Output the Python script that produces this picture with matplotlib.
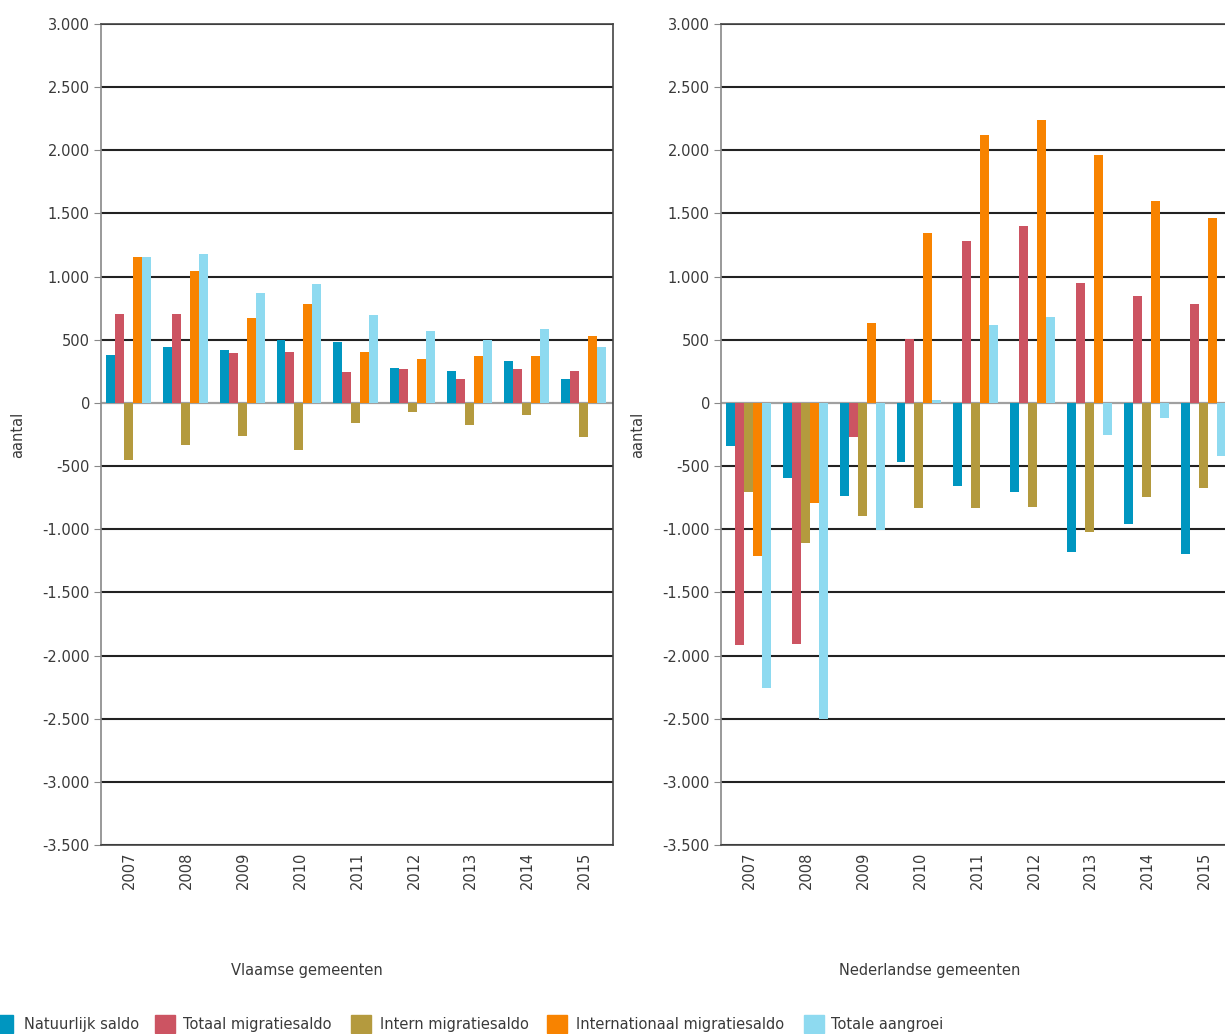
import matplotlib
matplotlib.use("Agg")
import matplotlib.pyplot as plt
import numpy as np
from matplotlib.ticker import FuncFormatter, FixedLocator
from matplotlib.patches import Rectangle

years = ["2007", "2008", "2009", "2010", "2011", "2012", "2013", "2014", "2015"]
series_names = ["Natuurlijk saldo", "Totaal migratiesaldo", "Intern migratiesaldo",
                "Internationaal migratiesaldo", "Totale aangroei"]
colors = ["#0096C0", "#CC5462", "#B49A3E", "#F88300", "#8EDAF0"]

# Vlaamse gemeenten
vl_natuurlijk = [378, 442, 418, 500, 482, 280, 254, 331, 193]
vl_totaal_mig = [706, 706, 392, 405, 241, 267, 193, 267, 254]
vl_intern_mig = [-450, -336, -259, -373, -161, -71, -172, -98, -273]
vl_intl_mig = [1159, 1045, 669, 783, 405, 344, 368, 368, 529]
vl_aangroei = [1159, 1183, 870, 945, 693, 569, 500, 582, 442]

# Nederlandse gemeenten
nl_natuurlijk = [-345, -597, -734, -468, -658, -708, -1181, -958, -1195]
nl_totaal_mig = [-1920, -1908, -271, 503, 1281, 1397, 947, 844, 781]
nl_intern_mig = [-708, -1108, -895, -832, -832, -821, -1021, -745, -671]
nl_intl_mig = [-1208, -795, 630, 1344, 2125, 2239, 1963, 1598, 1461]
nl_aangroei = [-2255, -2505, -1008, 26, 617, 680, -255, -121, -421]

panel_titles = ["Vlaamse gemeenten", "Nederlandse gemeenten"]
yticks = list(range(-3500, 3001, 500))

W, H = 1225, 1034
fig = plt.figure(figsize=(W / 100, H / 100), dpi=100)
plt.rcParams['font.family'] = ['DejaVu Sans']
txt_color = "#3a3a3a"
fs = 10.5


def fmt(v, pos=None):
    return f"{int(round(v)):,}".replace(",", ".")


def make_panel(left_px, data):
    ax = fig.add_axes([left_px / W, (H - 845) / H, 512 / W, (845 - 24) / H])
    x = np.arange(len(years))
    n = len(data)
    bw = 0.158
    for i, vals in enumerate(data):
        ax.bar(x - 0.02 + (i - (n - 1) / 2) * bw, vals, width=bw, color=colors[i],
               zorder=3, linewidth=0)
    ax.set_xlim(-0.5, len(years) - 0.5)
    ax.set_ylim(-3500, 3000)
    ax.yaxis.set_major_locator(FixedLocator(yticks))
    ax.yaxis.set_major_formatter(FuncFormatter(fmt))
    for t in yticks:
        if t == 0:
            ax.axhline(t, color="#a0a0a0", lw=1.6, zorder=2)
        else:
            ax.axhline(t, color="#222222", lw=1.5, zorder=1)
    ax.set_xticks(x)
    ax.set_xticklabels(years, rotation=90, fontsize=fs, color=txt_color)
    ax.tick_params(axis="x", length=0, pad=5)
    ax.tick_params(axis="y", length=5, color="#888888", labelsize=fs,
                   labelcolor=txt_color, pad=3)
    for s in ax.spines.values():
        s.set_color("#444444")
        s.set_linewidth(1.2)
    ax.spines["left"].set_color("#888888")
    return ax


ax1 = make_panel(101, [vl_natuurlijk, vl_totaal_mig, vl_intern_mig, vl_intl_mig, vl_aangroei])
ax2 = make_panel(721, [nl_natuurlijk, nl_totaal_mig, nl_intern_mig, nl_intl_mig, nl_aangroei])

# axis labels
fig.text(18 / W, 1 - 435 / H, "aantal", rotation=90, ha="center", va="center",
         fontsize=fs, color=txt_color)
fig.text(638 / W, 1 - 435 / H, "aantal", rotation=90, ha="center", va="center",
         fontsize=fs, color=txt_color)
fig.text(307 / W, 1 - 970 / H, panel_titles[0], ha="center", va="center",
         fontsize=fs, color=txt_color)
fig.text(930 / W, 1 - 970 / H, panel_titles[1], ha="center", va="center",
         fontsize=fs, color=txt_color)

# legend
patch_x = [-7, 155, 351, 547, 804]
text_x = [24, 183, 380, 576, 831]
ly = 1024
for px, tx, name, c in zip(patch_x, text_x, series_names, colors):
    fig.patches.append(Rectangle((px / W, 1 - (ly + 9) / H), 20 / W, 18 / H,
                                 transform=fig.transFigure, color=c, figure=fig))
    fig.text(tx / W, 1 - ly / H, name, ha="left", va="center", fontsize=fs,
             color=txt_color)

fig.savefig("out.png", dpi=100)
